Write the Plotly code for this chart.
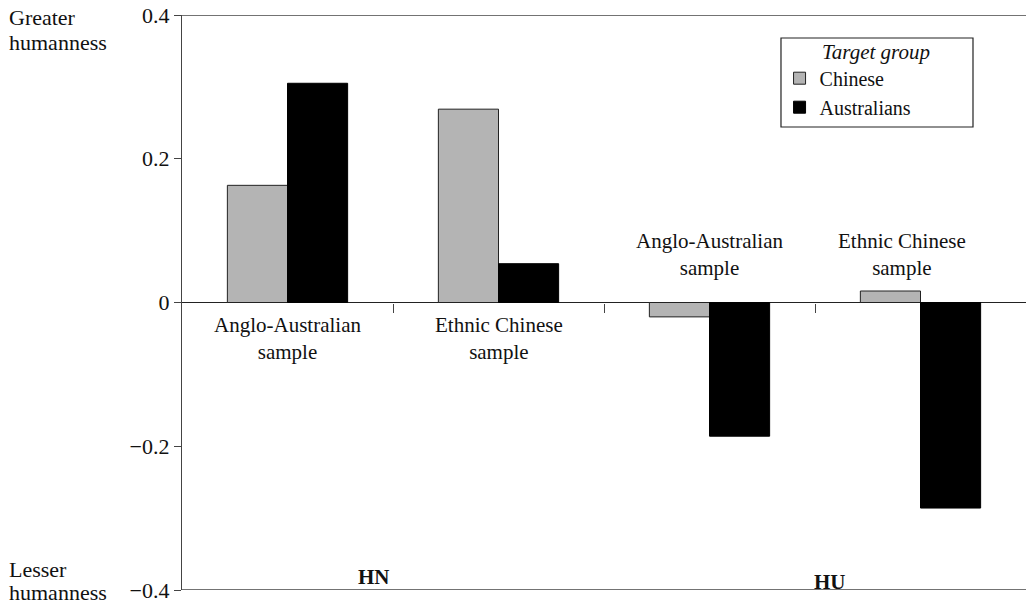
import plotly.graph_objects as go

# ---- data ----
samples = ["Anglo-Australian<br>sample", "Ethnic Chinese<br>sample",
           "Anglo-Australian<br>sample", "Ethnic Chinese<br>sample"]
dimensions = ["HN", "HU"]
chinese = [0.163, 0.269, -0.020, 0.016]
australians = [0.305, 0.054, -0.186, -0.286]
ytick_vals = [-0.4, -0.2, 0, 0.2, 0.4]
ytick_text = ["\u22120.4", "\u22120.2", "0", "0.2", "0.4"]

xs = list(range(len(samples)))
FONT = "'Liberation Serif', 'Times New Roman', serif"
FS = 21

fig = go.Figure()
fig.add_trace(go.Bar(x=xs, y=chinese, name="Chinese",
                     marker=dict(color="#b4b4b4", line=dict(color="#222", width=1))))
fig.add_trace(go.Bar(x=xs, y=australians, name="Australians",
                     marker=dict(color="#000000", line=dict(color="#000", width=1))))

# category labels (below zero for HN, above zero for HU)
label_y = [-0.012, -0.012, 0.028, 0.028]
label_anchor = ["top", "top", "bottom", "bottom"]
label_shift = [0, 0, 0, -19]
for i, s in enumerate(samples):
    fig.add_annotation(x=xs[i], y=label_y[i], text=s, showarrow=False,
                       yanchor=label_anchor[i], xshift=label_shift[i],
                       font=dict(family=FONT, size=FS, color="#111"))

# HN / HU labels
dim_x = [0.41, 2.57]
dim_y = [-0.382, -0.389]
for d, x, y in zip(dimensions, dim_x, dim_y):
    fig.add_annotation(x=x, y=y, text="<b>" + d + "</b>", showarrow=False,
                       font=dict(family=FONT, size=21, color="#111"))

# side labels
side_lines = [("Greater", 0.9965), ("humanness", 0.953),
              ("Lesser", 0.0348), ("humanness", -0.005)]
for txt, yp in side_lines:
    fig.add_annotation(xref="paper", yref="paper", x=-0.207, y=yp, xanchor="left",
                       yanchor="middle", align="left", showarrow=False, text=txt,
                       font=dict(family=FONT, size=22, color="#111"))

# legend title and frame
fig.add_annotation(xref="paper", yref="paper", x=0.8223, y=0.9357,
                   xanchor="center", yanchor="middle", showarrow=False,
                   text="<i>Target group</i>",
                   font=dict(family=FONT, size=FS, color="#111"))
fig.add_shape(type="rect", xref="paper", yref="paper",
              x0=0.7097, x1=0.9372, y0=0.8052, y1=0.96,
              line=dict(color="#222", width=1.2), fillcolor="rgba(0,0,0,0)")

# frame lines top and bottom
for yv in (0.4, -0.4):
    fig.add_shape(type="line", xref="paper", yref="y", x0=0, x1=1, y0=yv, y1=yv,
                  line=dict(color="#444", width=1.3))

fig.update_layout(
    width=1026, height=604,
    margin=dict(l=182, r=0, t=15, b=14),
    paper_bgcolor="white", plot_bgcolor="white",
    barmode="group", bargap=0.43, bargroupgap=0,
    font=dict(family=FONT, size=FS, color="#111"),
    legend=dict(
        x=0.708, y=0.924, xanchor="left", yanchor="top",
        borderwidth=0, bgcolor="rgba(0,0,0,0)",
        font=dict(family=FONT, size=20),
        itemwidth=30, tracegroupgap=0,
    ),
    showlegend=True,
    xaxis=dict(range=[-0.5, 3.5], anchor="free", position=0.5,
               showline=False, showgrid=False, zeroline=False,
               tickmode="array", tickvals=[0.5, 1.5, 2.5],
               showticklabels=False, ticks="outside", ticklen=9,
               tickcolor="#444", tickwidth=1.3),
    yaxis=dict(range=[-0.4, 0.4], showgrid=False,
               zeroline=True, zerolinecolor="#222", zerolinewidth=1.3,
               showline=True, linecolor="#444", linewidth=1.3,
               tickmode="array", tickvals=ytick_vals, ticktext=ytick_text,
               ticks="outside", ticklen=7, tickcolor="#444", tickwidth=1.3,
               tickfont=dict(family=FONT, size=22, color="#111")),
)

fig.write_html("out.html", config={"displayModeBar": False},
               post_script="document.body.style.margin='0px';"
                           "document.body.style.overflow='hidden';")
